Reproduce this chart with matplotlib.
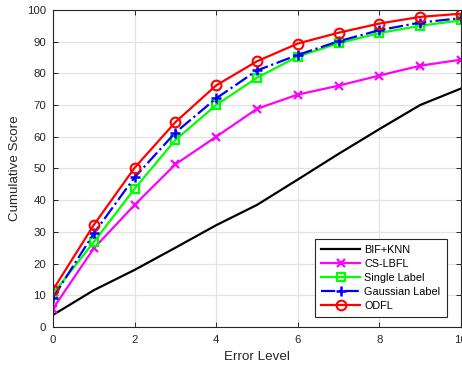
import numpy as np
import matplotlib.pyplot as plt

levels = np.arange(0, 11)

bif_knn = [3.8, 11.6, 18.0, 25.0, 32.1, 38.5, 46.5, 54.6, 62.4, 70.0, 75.2]
cs_lbfl = [5.8, 24.8, 38.5, 51.3, 60.0, 68.8, 73.3, 76.1, 79.3, 82.4, 84.3]
single_label = [10.5, 26.8, 43.6, 59.0, 70.0, 78.6, 85.3, 89.5, 92.7, 95.0, 96.7]
gaussian_label = [9.2, 29.5, 47.2, 61.3, 72.1, 80.9, 85.8, 90.1, 93.6, 96.0, 97.4]
odfl = [11.7, 32.2, 50.2, 64.6, 76.2, 83.8, 89.4, 92.8, 95.7, 97.8, 98.8]

plt.rcParams['font.family'] = ['Liberation Sans', 'DejaVu Sans']

fig = plt.figure(figsize=(4.62, 3.67), dpi=100)
ax = fig.add_axes([0.1147, 0.109, 0.883, 0.864])

lw = 1.6
ax.plot(levels, bif_knn, color='black', lw=lw, label='BIF+KNN')
ax.plot(levels, cs_lbfl, color='#ff00ff', lw=lw, marker='x', ms=6, mew=1.6, label='CS-LBFL')
ax.plot(levels, single_label, color='#00ff00', lw=lw, marker='s', ms=5.5, mew=1.6,
        mfc='none', label='Single Label')
ax.plot(levels, gaussian_label, color='#0000ff', lw=lw, ls='-.', marker='+', ms=7, mew=1.8,
        label='Gaussian Label')
ax.plot(levels, odfl, color='#ff0000', lw=lw, marker='o', ms=7, mew=1.5, mfc='none',
        label='ODFL')

ax.set_xlim(0, 10)
ax.set_ylim(0, 100)
ax.set_xticks(np.arange(0, 11, 2))
ax.set_yticks(np.arange(0, 101, 10))
ax.grid(True, color='#e3e3e3', lw=0.9)
ax.set_axisbelow(True)
ax.tick_params(direction='in', top=True, right=True, labelsize=8.2, colors='#262626',
               length=3.5, width=0.7)
ax.tick_params(axis='x', pad=6)
ax.tick_params(axis='y', pad=5)
for s in ax.spines.values():
    s.set_color('#262626')
    s.set_linewidth(0.8)

ax.set_xlabel('Error Level', fontsize=9.6, color='#262626', labelpad=4)
ax.set_ylabel('Cumulative Score', fontsize=9.6, color='#262626', labelpad=4)

leg = ax.legend(loc='lower right', bbox_to_anchor=(0.966, 0.031), fontsize=7.8,
                fancybox=False, framealpha=1, edgecolor='#262626', handlelength=3.6,
                borderpad=0.6, labelspacing=0.36, handletextpad=0.37, borderaxespad=0)
leg.get_frame().set_linewidth(0.8)

fig.savefig('out.png', dpi=100)
